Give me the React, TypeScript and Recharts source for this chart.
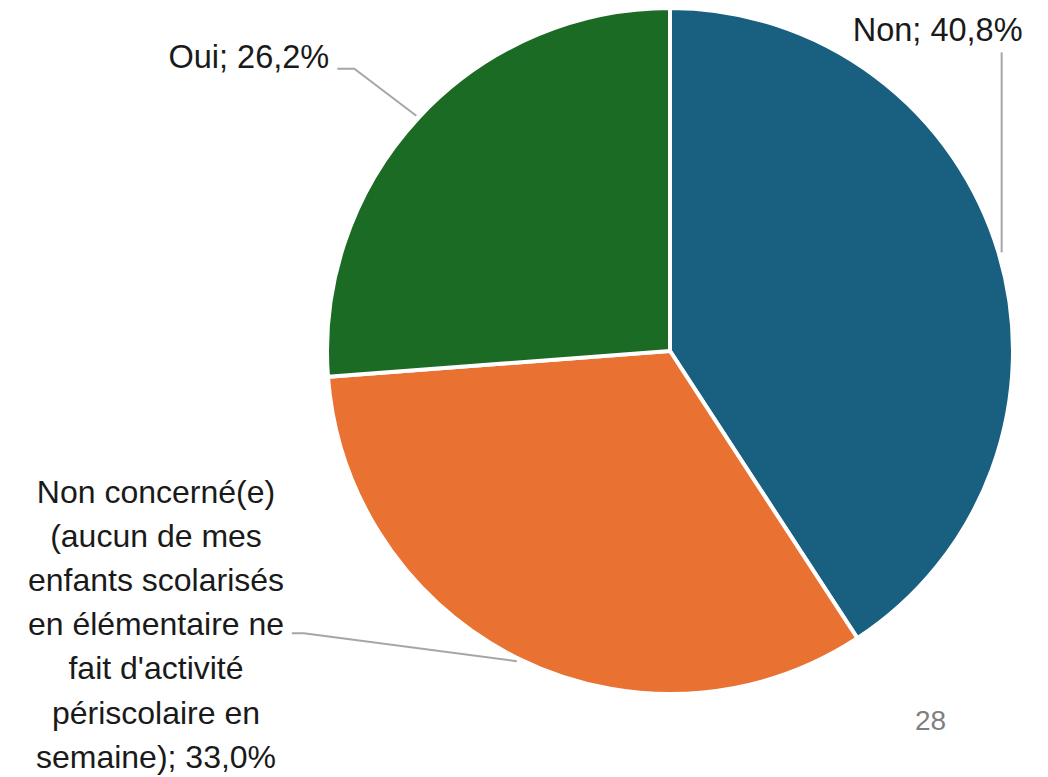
import React from 'react';
import { PieChart, Pie, Cell } from 'recharts';

const categories = [
  'Non',
  "Non concerné(e) (aucun de mes enfants scolarisés en élémentaire ne fait d'activité périscolaire en semaine)",
  'Oui',
];
const values = [40.8, 33.0, 26.2];
const colors = ['#185f80', '#e97132', '#1c6b25'];
const labelLines: string[][] = [
  ['Non; 40,8%'],
  [
    'Non concerné(e)',
    '(aucun de mes',
    'enfants scolarisés',
    'en élémentaire ne',
    "fait d'activité",
    'périscolaire en',
    'semaine); 33,0%',
  ],
  ['Oui; 26,2%'],
];
const pageNumber = '28';

const data = categories.map((c, i) => ({ name: c, value: values[i] }));

const RAD = Math.PI / 180;
const FONT = '"Liberation Sans", Arial, sans-serif';

const renderLabel = (props: any) => {
  const { cx, cy, midAngle, outerRadius, index } = props;
  const r = outerRadius + 3;
  const px = cx + r * Math.cos(-midAngle * RAD);
  const py = cy + r * Math.sin(-midAngle * RAD);
  const lines = labelLines[index];
  const stroke = '#a6a6a6';
  if (index === 0) {
    const topY = py - 200;
    return (
      <g key="l0">
        <polyline points={`${px},${py} ${px},${topY}`} fill="none" stroke={stroke} strokeWidth={2} />
        <text x={px - 64} y={topY - 11} textAnchor="middle" fontFamily={FONT} fontSize={32.5} fill="#1a1a1a">
          {lines[0]}
        </text>
      </g>
    );
  }
  if (index === 2) {
    const ex = px - 62;
    const ey = py - 47;
    return (
      <g key="l2">
        <polyline points={`${px},${py} ${ex},${ey} ${ex - 17},${ey}`} fill="none" stroke={stroke} strokeWidth={2} />
        <text x={ex - 25} y={ey - 1} textAnchor="end" fontFamily={FONT} fontSize={32.5} fill="#1a1a1a">
          {lines[0]}
        </text>
      </g>
    );
  }
  const ex = px - 213;
  const ey = py - 28;
  const lh = 44.2;
  const baseY = ey + 2 - 3 * lh;
  return (
    <g key="l1">
      <polyline points={`${px},${py} ${ex},${ey} ${ex - 12},${ey}`} fill="none" stroke={stroke} strokeWidth={2} />
      {lines.map((t, i) => (
        <text key={i} x={156} y={baseY + i * lh} textAnchor="middle" fontFamily={FONT} fontSize={32} fill="#1a1a1a">
          {t}
        </text>
      ))}
    </g>
  );
};

export default function App() {
  return (
    <div style={{ position: 'absolute', left: 0, top: 0, width: 1048, height: 777, background: '#fff' }}>
      <PieChart width={1048} height={777} margin={{ top: 0, right: 0, bottom: 0, left: 0 }}>
        <Pie
          data={data}
          dataKey="value"
          nameKey="name"
          cx={670}
          cy={351}
          outerRadius={343}
          startAngle={90}
          endAngle={-270}
          stroke="#ffffff"
          strokeWidth={4}
          label={renderLabel}
          labelLine={false}
          isAnimationActive={false}
        >
          {data.map((d, i) => (
            <Cell key={d.name} fill={colors[i]} />
          ))}
        </Pie>
      </PieChart>
      <div
        style={{
          position: 'absolute',
          left: 915,
          top: 705,
          fontFamily: FONT,
          fontSize: 28,
          color: '#7f7f7f',
          lineHeight: '32px',
        }}
      >
        {pageNumber}
      </div>
    </div>
  );
}
